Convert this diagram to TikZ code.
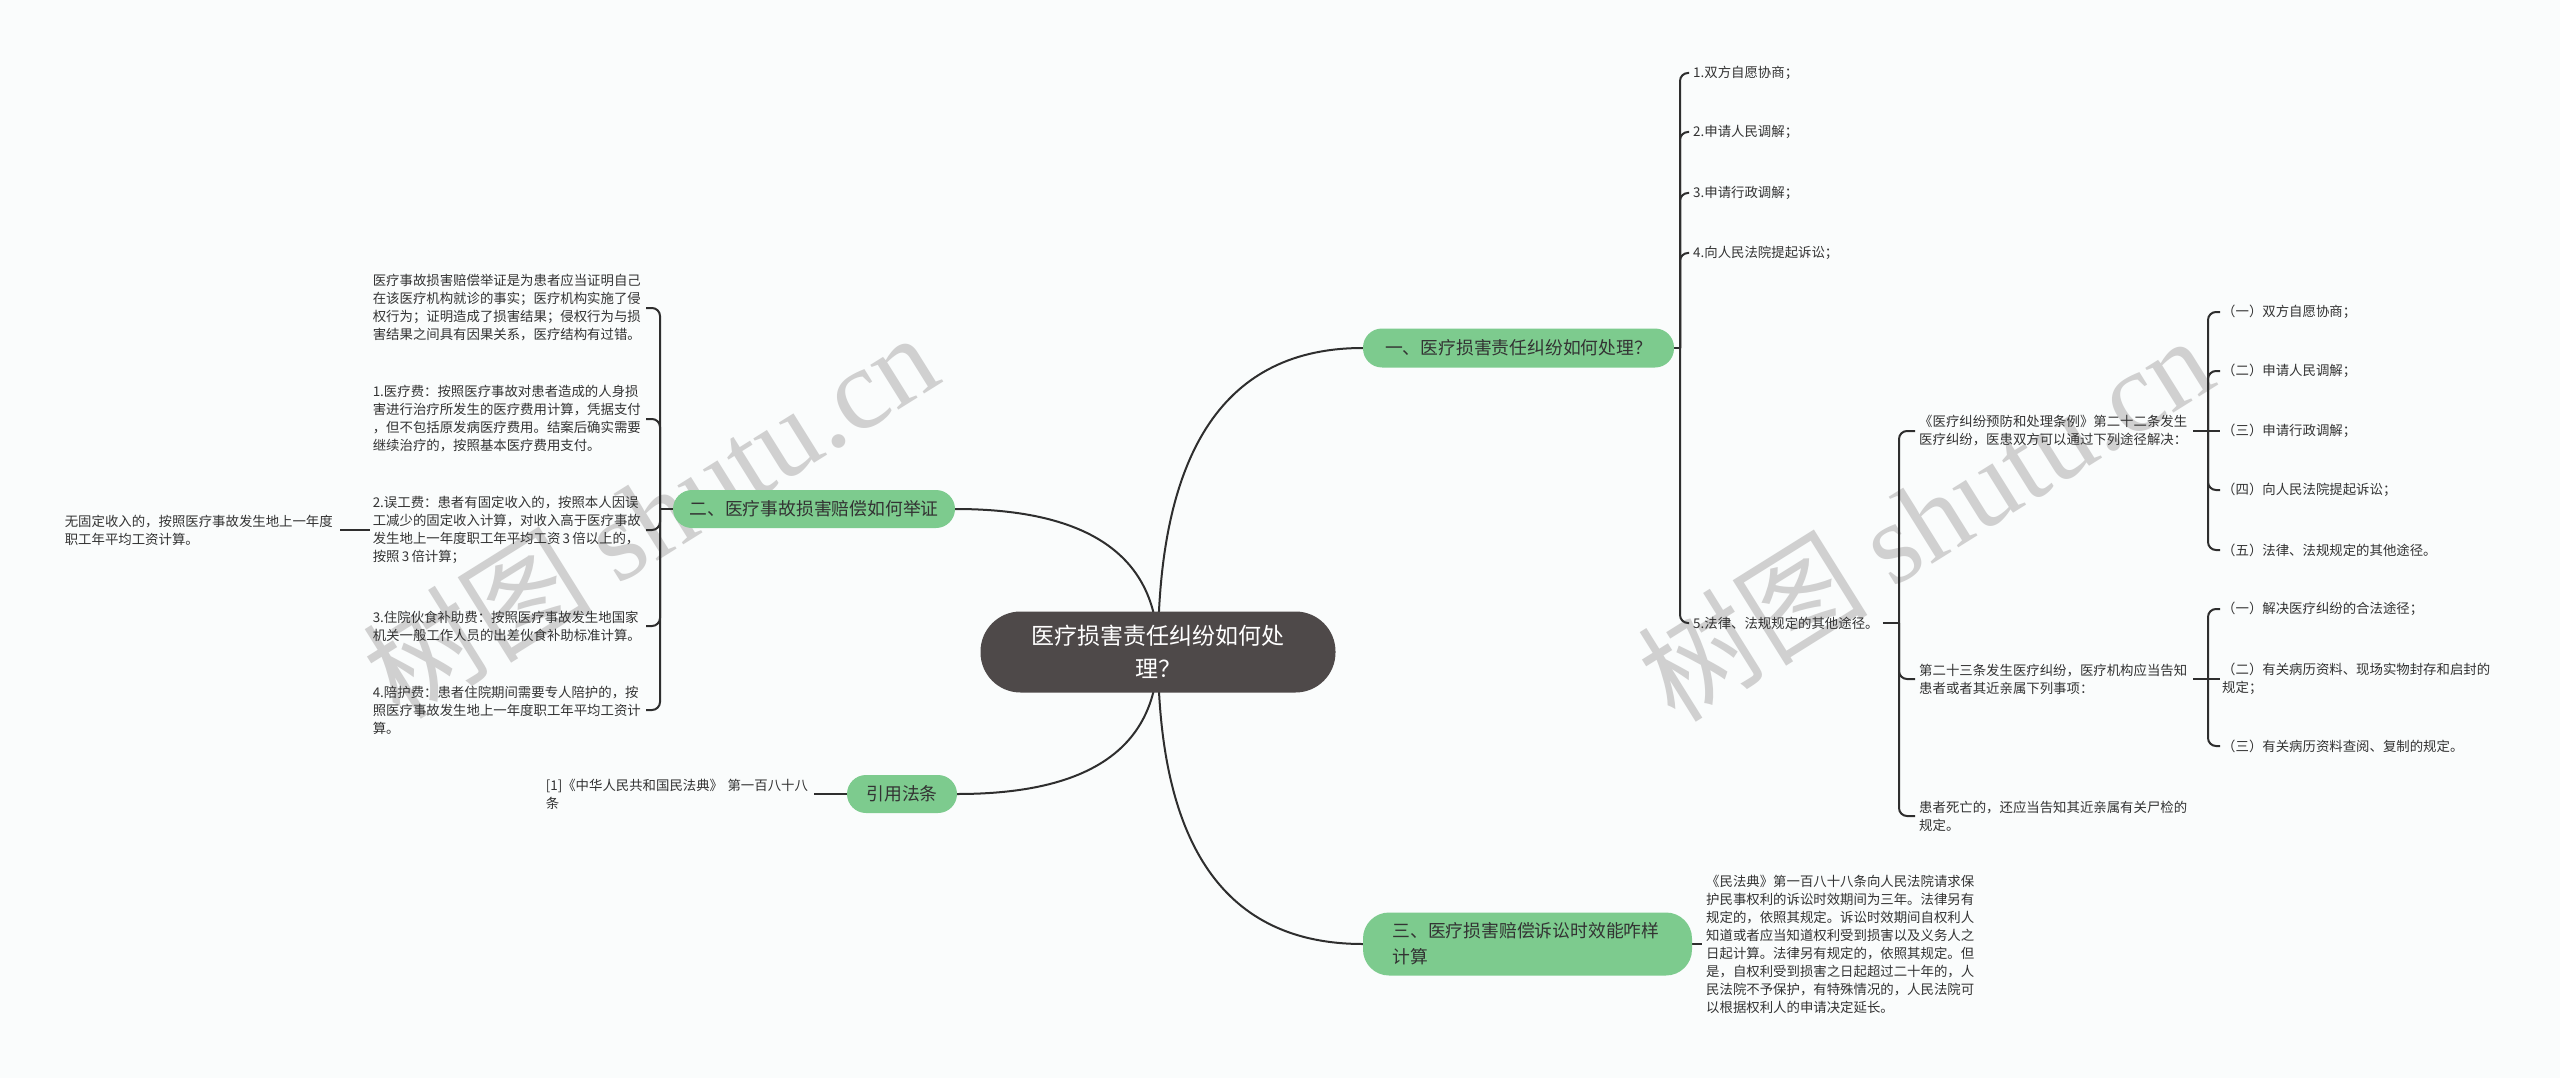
\documentclass[tikz,border=0pt]{standalone}
\usepackage{fontspec}
\setmainfont{Noto Sans CJK SC}
\newfontfamily\wmlatin{Liberation Serif}
\newfontfamily\wmcjk{Noto Sans CJK SC}
\usetikzlibrary{backgrounds}
\definecolor{bgc}{HTML}{FAFCFC}
\definecolor{edgec}{HTML}{2E2E2E}
\definecolor{greenc}{HTML}{7DCB8E}
\definecolor{darkc}{HTML}{4E4949}
\definecolor{textc}{HTML}{333333}
\definecolor{wmc}{HTML}{D0D0D0}
\begin{document}
\begin{tikzpicture}[x=1pt,y=-1pt,
  edge/.style={draw=edgec, line width=2pt},
  tick/.style={edge, rounded corners=8pt},
  leaf/.style={text=textc, font=\fontsize{13.4}{18}\selectfont, inner xsep=3pt, inner ysep=2pt, align=left},
  leafw/.style={leaf, text width=#1},
  branch/.style={fill=greenc, text=textc, rounded corners=19pt, font=\fontsize{17.8}{26}\selectfont, inner sep=0pt, align=center},
  root/.style={fill=darkc, text=white, rounded corners=40pt, font=\fontsize{23}{33}\selectfont, inner sep=0pt, align=center},
  wm/.style={text=wmc, font=\fontsize{115}{115}\selectfont, inner sep=0pt, rotate=32}
]
\useasboundingbox (0,0) rectangle (2560,1078);

% ---------- main nodes ----------
\node[root, minimum width=355pt, minimum height=81pt] (C0) at (1158,652) {医疗损害责任纠纷如何处\\理？};
\node[branch, minimum width=311pt, minimum height=39pt] (B1) at (1518.5,348) {一、医疗损害责任纠纷如何处理？};
\node[branch, minimum width=282pt, minimum height=38pt] (B2) at (814,509) {二、医疗事故损害赔偿如何举证};
\node[branch, minimum width=110pt, minimum height=38pt] (B4) at (902,794) {引用法条};
\node[branch, minimum width=329pt, minimum height=63pt, rounded corners=26pt, text width=270pt, align=left] (B3) at (1527.5,944) {三、医疗损害赔偿诉讼时效能咋样\\计算};

% ---------- left leaves ----------
\node[leafw=270pt, anchor=east] (LA) at (646,308) {医疗事故损害赔偿举证是为患者应当证明自己\\在该医疗机构就诊的事实；医疗机构实施了侵\\权行为；证明造成了损害结果；侵权行为与损\\害结果之间具有因果关系，医疗结构有过错。};
\node[leafw=270pt, anchor=east] (LB) at (646,419) {1.医疗费：按照医疗事故对患者造成的人身损\\害进行治疗所发生的医疗费用计算，凭据支付\\，但不包括原发病医疗费用。结案后确实需要\\继续治疗的，按照基本医疗费用支付。};
\node[leafw=270pt, anchor=east] (LC) at (646,530) {2.误工费：患者有固定收入的，按照本人因误\\工减少的固定收入计算，对收入高于医疗事故\\\mbox{发生地上一年度职工年平均工资\,3\,倍以上的，}\\按照\,3\,倍计算；};
\node[leafw=270pt, anchor=east] (LD) at (646,626) {3.住院伙食补助费：按照医疗事故发生地国家\\机关一般工作人员的出差伙食补助标准计算。};
\node[leafw=270pt, anchor=east] (LE) at (646,710) {4.陪护费：患者住院期间需要专人陪护的，按\\照医疗事故发生地上一年度职工年平均工资计\\算。};
\node[leafw=272pt, anchor=east] (LF) at (340,530) {无固定收入的，按照医疗事故发生地上一年度\\职工年平均工资计算。};
\node[leafw=265pt, anchor=east] (L4) at (814,794) {[1]《中华人民共和国民法典》 第一百八十八\\条};

% ---------- right leaves ----------
\node[leaf, anchor=west, inner xsep=4pt] (R1) at (1689,73) {1.双方自愿协商；};
\node[leaf, anchor=west, inner xsep=4pt] (R2) at (1689,132) {2.申请人民调解；};
\node[leaf, anchor=west, inner xsep=4pt] (R3) at (1689,193) {3.申请行政调解；};
\node[leaf, anchor=west, inner xsep=4pt] (R4) at (1689,253) {4.向人民法院提起诉讼；};
\node[leaf, anchor=west, inner xsep=4pt] (R5) at (1689,623) {5.法律、法规规定的其他途径。};

\node[leafw=270pt, anchor=west, inner xsep=4pt] (Ra) at (1915,431) {《医疗纠纷预防和处理条例》第二十二条发生\\医疗纠纷，医患双方可以通过下列途径解决：};
\node[leafw=270pt, anchor=west, inner xsep=4pt] (Rb) at (1915,679) {第二十三条发生医疗纠纷，医疗机构应当告知\\患者或者其近亲属下列事项：};
\node[leafw=270pt, anchor=west, inner xsep=4pt] (Rc) at (1915,816) {患者死亡的，还应当告知其近亲属有关尸检的\\规定。};

\node[leaf, anchor=west, inner xsep=2pt] (Ra1) at (2220,312) {（一）双方自愿协商；};
\node[leaf, anchor=west, inner xsep=2pt] (Ra2) at (2220,371) {（二）申请人民调解；};
\node[leaf, anchor=west, inner xsep=2pt] (Ra3) at (2220,431) {（三）申请行政调解；};
\node[leaf, anchor=west, inner xsep=2pt] (Ra4) at (2220,490) {（四）向人民法院提起诉讼；};
\node[leaf, anchor=west, inner xsep=2pt] (Ra5) at (2220,550) {（五）法律、法规规定的其他途径。};

\node[leaf, anchor=west, inner xsep=2pt] (Rb1) at (2220,609) {（一）解决医疗纠纷的合法途径；};
\node[leafw=275pt, anchor=west, inner xsep=2pt] (Rb2) at (2220,679) {（二）有关病历资料、现场实物封存和启封的\\规定；};
\node[leaf, anchor=west, inner xsep=2pt] (Rb3) at (2220,746) {（三）有关病历资料查阅、复制的规定。};

\node[leafw=272pt, anchor=west, inner xsep=4pt] (L3) at (1702,944) {《民法典》第一百八十八条向人民法院请求保\\护民事权利的诉讼时效期间为三年。法律另有\\规定的，依照其规定。诉讼时效期间自权利人\\知道或者应当知道权利受到损害以及义务人之\\日起计算。法律另有规定的，依照其规定。但\\是，自权利受到损害之日起超过二十年的，人\\民法院不予保护，有特殊情况的，人民法院可\\以根据权利人的申请决定延长。};

% ---------- junctions ----------
\coordinate (jL) at (660,509);
\coordinate (j1) at (1680,348);
\coordinate (j5) at (1899,623);
\coordinate (ja) at (2208,431);
\coordinate (jb) at (2208,679);

\begin{scope}[on background layer]
\fill[bgc] (0,0) rectangle (2560,1078);
\node[wm] (W1) at (650,514) {{\wmcjk 树图} {\wmlatin shutu.cn}};
\node[wm] (W2) at (1925,517) {{\wmcjk 树图} {\wmlatin shutu.cn}};

% root to branches
\draw[edge] (C0.center) .. controls +(0,-203) and +(-137,0) .. (B1.west);
\draw[edge] (C0.center) .. controls +(0,-95) and +(135,0) .. (B2.east);
\draw[edge] (C0.center) .. controls +(0,95) and +(134,0) .. (B4.east);
\draw[edge] (C0.center) .. controls +(0,195) and +(-137,0) .. (B3.west);

% left brace
\draw[edge] (B2.west) -- (jL);
\draw[tick] (jL) |- (LA.east);
\draw[tick] (jL) |- (LB.east);
\draw[tick] (jL) |- (LC.east);
\draw[tick] (jL) |- (LD.east);
\draw[tick] (jL) |- (LE.east);
\draw[edge] (LC.west) -- (LF.east);
\draw[edge] (B4.west) -- (L4.east);

% right top brace
\draw[edge] (B1.east) -- (j1);
\draw[tick] (j1) |- (R1.west);
\draw[tick] (j1) |- (R2.west);
\draw[tick] (j1) |- (R3.west);
\draw[tick] (j1) |- (R4.west);
\draw[tick] (j1) |- (R5.west);

\draw[edge] (R5.east) -- (j5);
\draw[tick] (j5) |- (Ra.west);
\draw[tick] (j5) |- (Rb.west);
\draw[tick] (j5) |- (Rc.west);

\draw[edge] (Ra.east) -- (ja);
\draw[tick] (ja) |- (Ra1.west);
\draw[tick] (ja) |- (Ra2.west);
\draw[edge] (ja) -- (Ra3.west);
\draw[tick] (ja) |- (Ra4.west);
\draw[tick] (ja) |- (Ra5.west);

\draw[edge] (Rb.east) -- (jb);
\draw[tick] (jb) |- (Rb1.west);
\draw[edge] (jb) -- (Rb2.west);
\draw[tick] (jb) |- (Rb3.west);

\draw[edge] (B3.east) -- (L3.west);
\end{scope}
\end{tikzpicture}
\end{document}
